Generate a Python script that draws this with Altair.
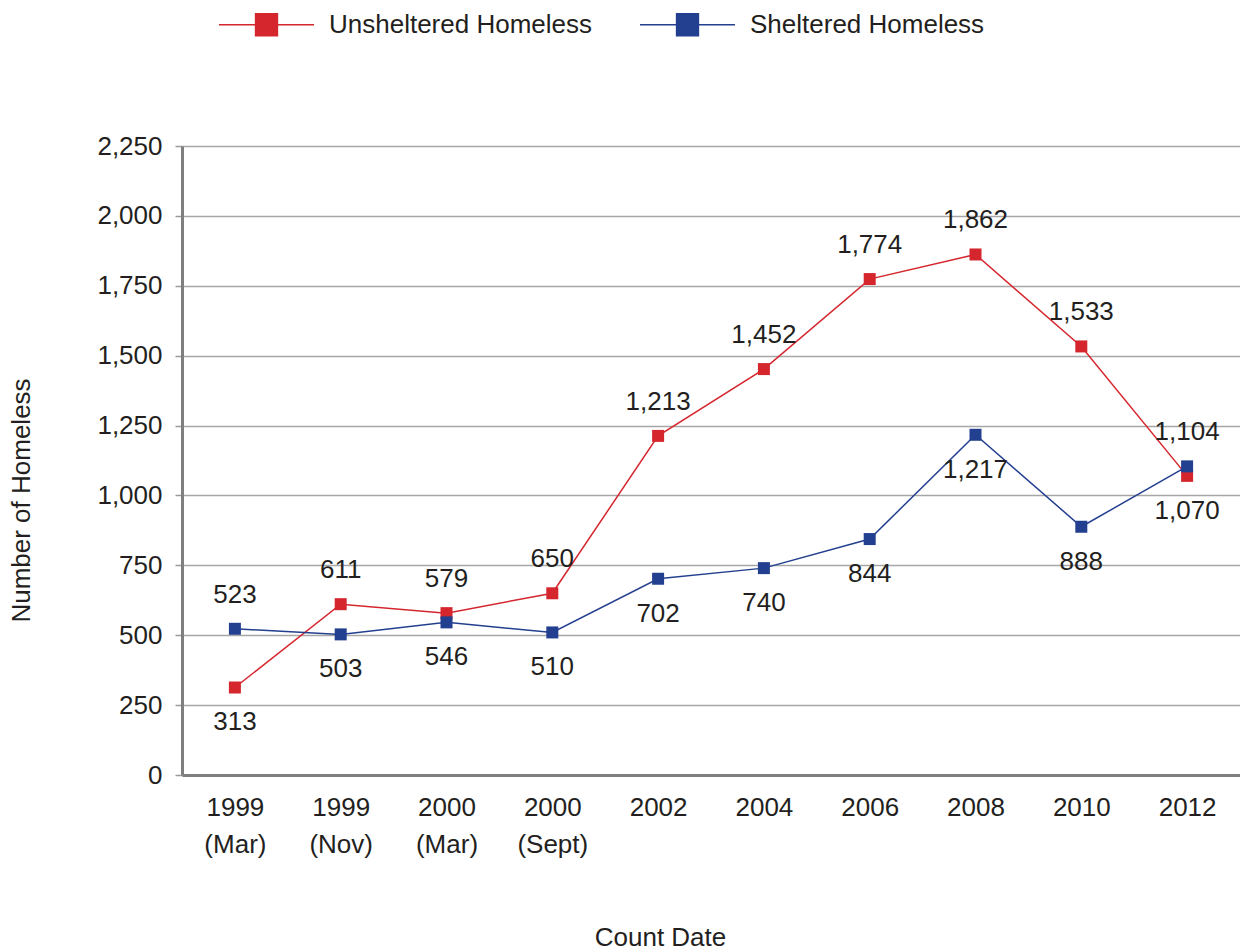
import altair as alt
import pandas as pd

# Homeless counts by count date
count_dates = ["1999|(Mar)", "1999|(Nov)", "2000|(Mar)", "2000|(Sept)",
               "2002", "2004", "2006", "2008", "2010", "2012"]
unsheltered = [313, 611, 579, 650, 1213, 1452, 1774, 1862, 1533, 1070]
sheltered = [523, 503, 546, 510, 702, 740, 844, 1217, 888, 1104]

series_names = ["Unsheltered Homeless", "Sheltered Homeless"]
series_colors = ["#d5262e", "#233f8f"]
y_ticks = [0, 250, 500, 750, 1000, 1250, 1500, 1750, 2000, 2250]

FONT = "Liberation Sans"
TEXT = "#231f20"

rows = []
for d, u, s in zip(count_dates, unsheltered, sheltered):
    # value labels sit above the higher series and below the lower one
    rows.append({"date": d, "series": series_names[0], "value": u,
                 "side": "above" if u >= s else "below"})
    rows.append({"date": d, "series": series_names[1], "value": s,
                 "side": "above" if s > u else "below"})
df = pd.DataFrame(rows)

color_scale = alt.Scale(domain=series_names, range=series_colors)
legend = alt.Legend(
    title=None, orient="none", direction="horizontal",
    legendX=36, legendY=-170,
    symbolType="M-1,0H1M-0.23,-0.23H0.23V0.23H-0.23Z",
    symbolSize=9025, symbolStrokeWidth=1.5,
    labelFont=FONT, labelFontSize=26, labelColor=TEXT, labelLimit=0,
    labelOffset=14, columnPadding=44,
)

x_enc = alt.X(
    "date:N", sort=count_dates,
    scale=alt.Scale(type="point", padding=0.5),
    axis=alt.Axis(
        title="Count Date", labelAngle=0,
        labelExpr="split(datum.value, '|')", labelLineHeight=37,
        labelPadding=19, ticks=False,
        domainColor="#7f7f7f", domainWidth=3, grid=False,
        titleX=478, titleY=162, titleBaseline="middle", titleAlign="center",
    ),
)
y_enc = alt.Y(
    "value:Q",
    scale=alt.Scale(domain=[0, 2250], nice=False, zero=True),
    axis=alt.Axis(
        title="Number of Homeless", values=y_ticks, format=",d",
        tickSize=7, tickColor="#9a9a9a", tickWidth=1.5, labelPadding=13,
        domainColor="#7f7f7f", domainWidth=3,
        grid=True, gridColor="#a6a6a6", gridWidth=1.5,
        titleX=-161, titleY=354, titleAngle=270,
        titleBaseline="middle", titleAlign="center",
    ),
)

lines = alt.Chart(df).mark_line(strokeWidth=1.5).encode(
    x=x_enc, y=y_enc,
    stroke=alt.Stroke("series:N", scale=color_scale, legend=legend),
    detail="series:N",
)
points = alt.Chart(df).mark_square(size=144, opacity=1).encode(
    x=x_enc, y=y_enc,
    fill=alt.Fill("series:N", scale=color_scale, legend=legend),
)
labels_above = alt.Chart(df).transform_filter(
    alt.datum.side == "above"
).mark_text(dy=-34, font=FONT, fontSize=26, color=TEXT, baseline="middle").encode(
    x=x_enc, y=y_enc, text=alt.Text("value:Q", format=",d"),
)
labels_below = alt.Chart(df).transform_filter(
    alt.datum.side == "below"
).mark_text(dy=35, font=FONT, fontSize=26, color=TEXT, baseline="middle").encode(
    x=x_enc, y=y_enc, text=alt.Text("value:Q", format=",d"),
)

chart = alt.layer(lines, points, labels_above, labels_below).properties(
    width=1058, height=629,
    autosize=alt.AutoSizeParams(type="none"),
    padding={"left": 182, "top": 146, "right": 0, "bottom": 175},
    background="white",
).configure_view(
    strokeWidth=0
).configure_axis(
    labelFont=FONT, labelFontSize=26, labelColor=TEXT,
    titleFont=FONT, titleFontSize=26, titleColor=TEXT, titleFontWeight="normal",
)

chart.save("out.html", embed_options={"renderer": "svg", "actions": False})
